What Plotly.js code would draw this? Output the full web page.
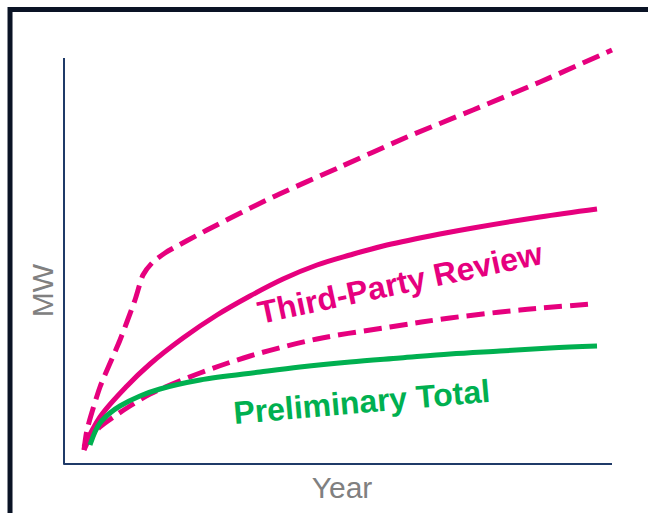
<!DOCTYPE html>
<html>
<head>
<meta charset="utf-8">
<script src="https://cdn.plot.ly/plotly-3.0.1.min.js"></script>
<style>html,body{margin:0;padding:0;background:#fff;}#chart{width:648px;height:513px;}</style>
</head>
<body>
<div id="chart"></div>
<script>
// Values (arbitrary units)
const upperDashX = [20,23,36,56,71,79,88,101,143,209,276,343,409,476,548];
const upperDashY = [14,34,77,124,164,189,201,211,234,267,297,327,354,382,414];

const reviewX = [20,36,63,86,119,153,186,219,253,286,319,366,409,476,533];
const reviewY = [17,47,78,100,126,149,168,185,199,209,218,228,236,247,255];

const lowerDashX = [20,26,36,51,66,86,106,136,186,253,326,386,456,527];
const lowerDashY = [14,26,37,48,58,70,79,91,108,125,137,146,154,160];

const prelimX = [26,31,36,46,56,76,96,136,196,236,286,336,386,436,486,533];
const prelimY = [19,32,41,51,58,68,75,84,92,97,102,106,110,113,116,118];

const labels = ["Third-Party Review", "Preliminary Total"];
const axisTitles = {x: "Year", y: "MW"};

const PINK = "#e6007e";
const GREEN = "#00b050";
const AXIS = "#1f3a68";

const traces = [
  {x: upperDashX, y: upperDashY, mode: "lines", line: {color: PINK, width: 5, dash: "18px,8px", shape: "spline", smoothing: 0.6}, hoverinfo: "skip"},
  {x: reviewX, y: reviewY, mode: "lines", line: {color: PINK, width: 5, shape: "spline"}, hoverinfo: "skip"},
  {x: lowerDashX, y: lowerDashY, mode: "lines", line: {color: PINK, width: 5, dash: "18px,8px", shape: "spline"}, hoverinfo: "skip"},
  {x: prelimX, y: prelimY, mode: "lines", line: {color: GREEN, width: 5, shape: "spline"}, hoverinfo: "skip"}
];

const layout = {
  width: 648, height: 513,
  margin: {l: 64, r: 28, t: 40, b: 49},
  paper_bgcolor: "#ffffff", plot_bgcolor: "#ffffff",
  showlegend: false,
  font: {family: "Liberation Sans, Arial, sans-serif"},
  xaxis: {
    range: [0, 556], showgrid: false, zeroline: false, showticklabels: false, ticks: "",
    showline: false, fixedrange: true,
    title: {text: axisTitles.x, font: {size: 30, color: "#808080"}, standoff: 12}
  },
  yaxis: {
    range: [0, 424], showgrid: false, zeroline: false, showticklabels: false, ticks: "",
    showline: false, fixedrange: true
  },
  annotations: [
    {x: 336, y: 181, xref: "x", yref: "y", text: "<b>" + labels[0] + "</b>", showarrow: false,
     textangle: -12, font: {size: 32, color: PINK, family: "Liberation Sans, Arial, sans-serif"}},
    {x: 297, y: 62, xref: "x", yref: "y", text: "<b>" + labels[1] + "</b>", showarrow: false,
     textangle: -5, font: {size: 32, color: GREEN, family: "Liberation Sans, Arial, sans-serif"}},
    {x: -0.0396, y: 0.41, xref: "paper", yref: "paper", xanchor: "center", yanchor: "middle",
     text: axisTitles.y, showarrow: false,
     textangle: -90, font: {size: 30, color: "#808080", family: "Liberation Sans, Arial, sans-serif"}}
  ],
  shapes: [
    {type: "line", xref: "paper", yref: "paper", x0: 0, x1: 0, y0: -0.002, y1: 406/424,
     line: {color: AXIS, width: 2}},
    {type: "line", xref: "paper", yref: "paper", x0: 0, x1: 548/556, y0: 0, y1: 0,
     line: {color: AXIS, width: 2}},
    {type: "rect", xref: "paper", yref: "paper", x0: -0.0971, x1: 1.2, y0: -0.3, y1: 1.0719,
     line: {color: "#0a1325", width: 5}, fillcolor: "rgba(0,0,0,0)", layer: "above"}
  ]
};

Plotly.newPlot("chart", traces, layout, {staticPlot: true, displayModeBar: false});
</script>
</body>
</html>
